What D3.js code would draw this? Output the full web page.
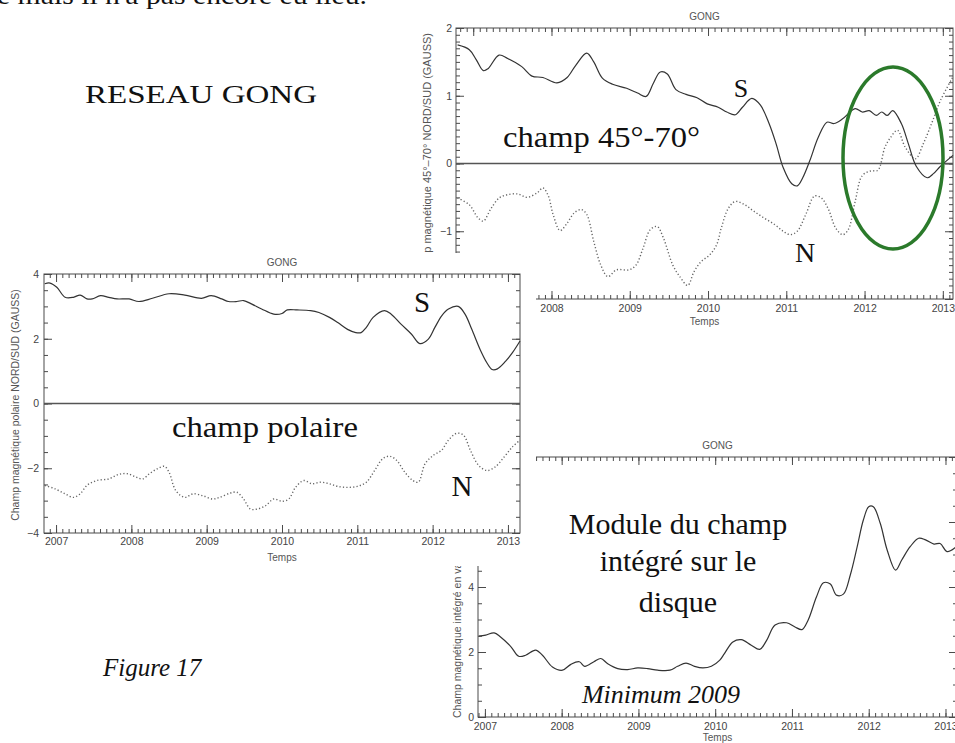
<!DOCTYPE html>
<html><head><meta charset="utf-8">
<script src="https://cdn.jsdelivr.net/npm/d3@7"></script>
<style>body{margin:0;background:#fff}svg{display:block}</style>
</head><body>
<svg id="c" width="955" height="743"></svg>
<script>
// ---------------- DATA ----------------
const yearTicks = [2007, 2008, 2009, 2010, 2011, 2012, 2013];
const yMajorTR = [-2, -1, 0, 1, 2];
const yMajorL = [-4, -2, 0, 2, 4];
const yMajorBR = [0, 2, 4, 6, 8];
const yLabelsBR = [0, 2, 4];

// Top-right panel: champ 45°-70°
const trYearsS = [2006.80, 2006.95, 2007.04, 2007.13, 2007.19, 2007.33, 2007.44, 2007.62, 2007.75, 2007.89, 2008.07, 2008.20, 2008.31, 2008.45, 2008.54, 2008.65, 2008.78, 2008.96, 2009.10, 2009.21, 2009.30, 2009.39, 2009.48, 2009.59, 2009.72, 2009.86, 2009.99, 2010.13, 2010.24, 2010.35, 2010.44, 2010.56, 2010.67, 2010.78, 2010.87, 2010.96, 2011.07, 2011.14, 2011.21, 2011.30, 2011.41, 2011.52, 2011.61, 2011.72, 2011.88, 2011.97, 2012.06, 2012.15, 2012.22, 2012.29, 2012.36, 2012.47, 2012.56, 2012.66, 2012.80, 2012.88, 2012.97, 2013.13];
const trValuesS = [1.75, 1.68, 1.53, 1.37, 1.40, 1.60, 1.55, 1.43, 1.29, 1.27, 1.19, 1.27, 1.45, 1.63, 1.50, 1.26, 1.17, 1.11, 1.04, 0.99, 1.18, 1.35, 1.32, 1.09, 1.02, 0.97, 0.88, 0.83, 0.76, 0.72, 0.83, 0.96, 0.86, 0.59, 0.29, -0.06, -0.30, -0.33, -0.21, 0.04, 0.39, 0.61, 0.59, 0.66, 0.81, 0.76, 0.78, 0.71, 0.76, 0.71, 0.78, 0.59, 0.29, -0.04, -0.21, -0.15, -0.04, 0.12];
const trYearsN = [2006.80, 2006.95, 2007.06, 2007.13, 2007.22, 2007.33, 2007.44, 2007.57, 2007.69, 2007.82, 2007.89, 2007.96, 2008.02, 2008.11, 2008.20, 2008.29, 2008.38, 2008.45, 2008.54, 2008.63, 2008.72, 2008.83, 2008.99, 2009.08, 2009.17, 2009.26, 2009.35, 2009.43, 2009.55, 2009.64, 2009.74, 2009.82, 2009.91, 2010.02, 2010.11, 2010.17, 2010.26, 2010.35, 2010.47, 2010.58, 2010.71, 2010.85, 2010.96, 2011.05, 2011.14, 2011.25, 2011.36, 2011.45, 2011.54, 2011.63, 2011.72, 2011.79, 2011.88, 2011.97, 2012.08, 2012.17, 2012.26, 2012.33, 2012.42, 2012.52, 2012.65, 2012.75, 2012.86, 2012.97, 2013.13];
const trValuesN = [-0.51, -0.61, -0.80, -0.85, -0.68, -0.51, -0.46, -0.45, -0.50, -0.43, -0.36, -0.48, -0.75, -0.99, -0.88, -0.73, -0.68, -0.75, -1.15, -1.50, -1.67, -1.57, -1.57, -1.50, -1.25, -0.98, -0.93, -1.10, -1.50, -1.67, -1.80, -1.60, -1.45, -1.35, -1.20, -0.95, -0.66, -0.56, -0.61, -0.70, -0.80, -0.90, -1.00, -1.05, -1.00, -0.75, -0.48, -0.51, -0.68, -0.95, -1.05, -0.98, -0.56, -0.18, -0.11, -0.10, 0.24, 0.38, 0.49, 0.24, 0.07, 0.29, 0.60, 0.93, 1.28];

// Left panel: champ polaire
const lYearsS = [2006.85, 2006.92, 2007.01, 2007.12, 2007.23, 2007.32, 2007.41, 2007.48, 2007.59, 2007.70, 2007.81, 2007.97, 2008.10, 2008.28, 2008.50, 2008.71, 2008.93, 2009.06, 2009.20, 2009.29, 2009.40, 2009.49, 2009.60, 2009.73, 2009.89, 2010.00, 2010.07, 2010.20, 2010.38, 2010.49, 2010.63, 2010.74, 2010.87, 2010.98, 2011.05, 2011.12, 2011.21, 2011.36, 2011.45, 2011.58, 2011.72, 2011.83, 2011.94, 2012.03, 2012.12, 2012.21, 2012.34, 2012.43, 2012.52, 2012.63, 2012.72, 2012.79, 2012.86, 2012.97, 2013.06, 2013.16];
const lValuesS = [3.70, 3.72, 3.59, 3.28, 3.28, 3.35, 3.23, 3.23, 3.33, 3.28, 3.23, 3.23, 3.15, 3.25, 3.39, 3.35, 3.25, 3.33, 3.23, 3.15, 3.15, 3.18, 3.07, 2.92, 2.76, 2.78, 2.89, 2.89, 2.87, 2.81, 2.66, 2.50, 2.29, 2.19, 2.19, 2.35, 2.66, 2.87, 2.76, 2.45, 2.14, 1.85, 1.98, 2.35, 2.71, 2.92, 3.00, 2.76, 2.29, 1.67, 1.26, 1.05, 1.07, 1.31, 1.57, 1.93];
const lYearsN = [2006.85, 2006.99, 2007.12, 2007.23, 2007.32, 2007.41, 2007.54, 2007.70, 2007.83, 2007.95, 2008.06, 2008.15, 2008.24, 2008.35, 2008.44, 2008.50, 2008.59, 2008.71, 2008.82, 2008.95, 2009.08, 2009.17, 2009.31, 2009.40, 2009.49, 2009.58, 2009.67, 2009.78, 2009.89, 2010.00, 2010.09, 2010.18, 2010.29, 2010.40, 2010.51, 2010.63, 2010.74, 2010.87, 2011.00, 2011.12, 2011.23, 2011.34, 2011.43, 2011.52, 2011.63, 2011.74, 2011.81, 2011.90, 2012.01, 2012.12, 2012.21, 2012.32, 2012.41, 2012.50, 2012.61, 2012.72, 2012.83, 2012.95, 2013.06, 2013.16];
const lValuesN = [-2.53, -2.64, -2.79, -2.90, -2.79, -2.53, -2.38, -2.33, -2.19, -2.17, -2.27, -2.33, -2.17, -2.01, -1.94, -2.12, -2.69, -2.90, -2.79, -2.85, -2.95, -2.90, -2.77, -2.74, -2.95, -3.26, -3.26, -3.16, -2.95, -3.02, -2.95, -2.59, -2.38, -2.48, -2.43, -2.48, -2.56, -2.59, -2.56, -2.43, -2.07, -1.70, -1.63, -1.75, -2.12, -2.38, -2.43, -1.86, -1.60, -1.44, -1.13, -0.92, -0.98, -1.44, -1.91, -2.07, -1.96, -1.65, -1.34, -1.13];

// Bottom-right panel: module du champ intégré
const brYears = [2006.92, 2007.01, 2007.12, 2007.20, 2007.34, 2007.44, 2007.53, 2007.66, 2007.75, 2007.88, 2008.01, 2008.12, 2008.23, 2008.30, 2008.42, 2008.51, 2008.60, 2008.73, 2008.86, 2008.99, 2009.12, 2009.25, 2009.41, 2009.51, 2009.62, 2009.73, 2009.84, 2009.95, 2010.06, 2010.12, 2010.23, 2010.34, 2010.47, 2010.58, 2010.67, 2010.78, 2010.93, 2011.04, 2011.13, 2011.21, 2011.32, 2011.41, 2011.50, 2011.58, 2011.67, 2011.76, 2011.85, 2011.93, 2012.00, 2012.06, 2012.15, 2012.24, 2012.35, 2012.43, 2012.54, 2012.65, 2012.74, 2012.85, 2012.93, 2013.02, 2013.14];
const brValues = [2.49, 2.52, 2.59, 2.47, 2.16, 1.87, 1.90, 2.06, 1.90, 1.54, 1.44, 1.62, 1.70, 1.56, 1.70, 1.80, 1.64, 1.49, 1.46, 1.51, 1.49, 1.44, 1.44, 1.56, 1.66, 1.56, 1.51, 1.56, 1.75, 1.95, 2.31, 2.38, 2.21, 2.08, 2.36, 2.83, 2.90, 2.77, 2.69, 2.98, 3.70, 4.13, 4.09, 3.75, 3.78, 4.37, 5.24, 6.06, 6.47, 6.47, 5.96, 5.14, 4.52, 4.83, 5.24, 5.50, 5.45, 5.32, 5.34, 5.09, 5.24];

// ---------------- DRAWING ----------------
const svg = d3.select("#c");
const AX = "#4a4a4a";

function drawPanel(cfg) {
  const g = svg.append("g");
  if (cfg.bg) g.append("rect").attr("x", cfg.bg[0]).attr("y", cfg.bg[1])
    .attr("width", cfg.bg[2]).attr("height", cfg.bg[3]).attr("fill", "#fff");
  const x = d3.scaleLinear().domain(cfg.xDomain).range([cfg.left, cfg.right]);
  const y = d3.scaleLinear().domain(cfg.yDomain).range([cfg.bottom, cfg.top]);
  const months = d3.range(Math.ceil(cfg.xDomain[0] * 12), Math.floor(cfg.xDomain[1] * 12) + 1).map(m => m / 12);
  const yMinor = d3.range(Math.ceil(cfg.yDomain[0] / cfg.yMinorStep), Math.floor(cfg.yDomain[1] / cfg.yMinorStep) + 1).map(k => +(k * cfg.yMinorStep).toFixed(4));
  const fmtY = d => (d < 0 ? "\u2212" + Math.abs(d) : String(d));

  function style(sel) {
    sel.select(".domain").remove();
    sel.selectAll("line").attr("stroke", AX).attr("stroke-width", 1);
    sel.selectAll("text").attr("font-family", "Liberation Sans, Arial, sans-serif")
      .attr("font-size", 10.5).attr("fill", "#444");
  }
  const yt = yearTicks.filter(v => v >= cfg.xDomain[0] && v <= cfg.xDomain[1]);
  // bottom
  g.append("g").attr("transform", `translate(0,${cfg.bottom})`)
    .call(d3.axisBottom(x).tickValues(months).tickSize(-4).tickFormat("")).call(style);
  g.append("g").attr("transform", `translate(0,${cfg.bottom})`)
    .call(d3.axisBottom(x).tickValues(yt).tickSize(-8).tickPadding(cfg.xPad).tickFormat(d3.format("d"))).call(style);
  // top
  g.append("g").attr("transform", `translate(0,${cfg.top})`)
    .call(d3.axisTop(x).tickValues(months).tickSize(-4).tickFormat("")).call(style);
  g.append("g").attr("transform", `translate(0,${cfg.top})`)
    .call(d3.axisTop(x).tickValues(yt).tickSize(-8).tickFormat("")).call(style);
  // left
  g.append("g").attr("transform", `translate(${cfg.left},0)`)
    .call(d3.axisLeft(y).tickValues(yMinor).tickSize(-4).tickFormat("")).call(style);
  g.append("g").attr("transform", `translate(${cfg.left},0)`)
    .call(d3.axisLeft(y).tickValues(cfg.yMajor).tickSize(-8).tickPadding(cfg.yPad)
      .tickFormat(d => cfg.yLabels.includes(d) ? fmtY(d) : "")).call(style);
  // right
  g.append("g").attr("transform", `translate(${cfg.right},0)`)
    .call(d3.axisRight(y).tickValues(yMinor).tickSize(-4).tickFormat("")).call(style);
  g.append("g").attr("transform", `translate(${cfg.right},0)`)
    .call(d3.axisRight(y).tickValues(cfg.yMajor).tickSize(-8).tickFormat("")).call(style);
  // frame
  g.append("rect").attr("x", cfg.left).attr("y", cfg.top)
    .attr("width", cfg.right - cfg.left).attr("height", cfg.bottom - cfg.top)
    .attr("fill", "none").attr("stroke", AX).attr("stroke-width", 1);
  // zero line
  if (cfg.zero) g.append("line").attr("x1", cfg.left).attr("x2", cfg.right)
    .attr("y1", y(0)).attr("y2", y(0)).attr("stroke", "#555").attr("stroke-width", 1.3);
  // series
  const line = d3.line().x(d => x(d[0])).y(d => y(d[1])).curve(d3.curveCatmullRom.alpha(0.5));
  cfg.series.forEach(s => {
    g.append("path").attr("d", line(d3.zip(s.xs, s.ys))).attr("fill", "none")
      .attr("stroke", s.dotted ? "#666" : "#333").attr("stroke-width", s.dotted ? 1.4 : 1.2)
      .attr("stroke-dasharray", s.dotted ? "1.2,2.2" : null);
  });
  // title and labels
  const font = "Liberation Sans, Arial, sans-serif";
  g.append("text").attr("x", (cfg.left + cfg.right) / 2).attr("y", cfg.top - 8)
    .attr("text-anchor", "middle").attr("font-family", font).attr("font-size", 10).attr("fill", "#555").text("GONG");
  g.append("text").attr("x", (cfg.left + cfg.right) / 2).attr("y", cfg.temY)
    .attr("text-anchor", "middle").attr("font-family", font).attr("font-size", 10).attr("fill", "#555").text("Temps");
  g.append("text").attr("transform", `translate(${cfg.ylab[0]},${cfg.ylab[1]}) rotate(-90)`)
    .attr("text-anchor", cfg.ylab[2]).attr("font-family", font).attr("font-size", cfg.ylab[3]).attr("fill", "#555").text(cfg.ylabText);
  return {x, y};
}

// bottom-right panel (furthest back)
drawPanel({
  xDomain: [2006.91, 2013.15], yDomain: [0, 8], left: 478, right: 957, top: 457, bottom: 717,
  yMajor: yMajorBR, yLabels: yLabelsBR, yMinorStep: 0.5, xPad: 6, yPad: 4, zero: false, temY: 741,
  ylab: [461, 718, "start", 10.5], ylabText: "Champ magnétique intégré en valeur absolue (GAUSS)",
  series: [{xs: brYears, ys: brValues}]
});
// top-right panel
drawPanel({
  xDomain: [2006.78, 2013.13], yDomain: [-2, 2], left: 456, right: 953, top: 28, bottom: 299,
  yMajor: yMajorTR, yLabels: yMajorTR, yMinorStep: 0.1, xPad: 6, yPad: 4, zero: true, temY: 325,
  ylab: [431, 33, "end", 11], ylabText: "Champ magnétique 45°\u201370° NORD/SUD  (GAUSS)",
  series: [{xs: trYearsN, ys: trValuesN, dotted: true}, {xs: trYearsS, ys: trValuesS}]
});
// left panel (front)
drawPanel({
  bg: [0, 253, 536, 313],
  xDomain: [2006.84, 2013.16], yDomain: [-4, 4], left: 44, right: 520, top: 274, bottom: 533,
  yMajor: yMajorL, yLabels: yMajorL, yMinorStep: 0.5, xPad: 5, yPad: 5, zero: true, temY: 561,
  ylab: [19, 405, "middle", 10.5], ylabText: "Champ magnétique polaire NORD/SUD (GAUSS)",
  series: [{xs: lYearsN, ys: lValuesN, dotted: true}, {xs: lYearsS, ys: lValuesS}]
});

// ---------------- ANNOTATIONS ----------------
const serif = "Liberation Serif, Times New Roman, serif";
function txt(t, x, y, size, opts = {}) {
  const e = svg.append("text").attr("x", x).attr("y", y).attr("font-family", serif)
    .attr("font-size", size).attr("fill", "#111").attr("text-anchor", opts.anchor || "start")
    .attr("font-style", opts.italic ? "italic" : null).text(t);
  if (opts.len) e.attr("textLength", opts.len).attr("lengthAdjust", "spacingAndGlyphs");
  return e;
}
txt("e mais il n'a pas encore eu lieu.", -3, 4, 26, {len: 370});
txt("RESEAU GONG", 85, 103, 25, {len: 232});
txt("champ 45°-70°", 503, 147, 29, {len: 197});
txt("S", 741, 97, 26, {anchor: "middle"});
txt("N", 805, 262, 28, {anchor: "middle"});
txt("champ polaire", 172, 437, 29, {len: 186});
txt("S", 422, 312, 29, {anchor: "middle"});
txt("N", 462, 496, 29, {anchor: "middle"});
txt("Module du champ", 678, 534, 30, {anchor: "middle"});
txt("intégré sur le", 678, 571, 30, {anchor: "middle"});
txt("disque", 678, 612, 30, {anchor: "middle"});
txt("Minimum 2009", 661, 703, 26, {anchor: "middle", italic: true});
txt("Figure 17", 103, 676, 25, {italic: true});

svg.append("ellipse").attr("cx", 893).attr("cy", 158).attr("rx", 50).attr("ry", 91)
  .attr("fill", "none").attr("stroke", "#2b7a2b").attr("stroke-width", 3.5);
</script>
</body></html>
